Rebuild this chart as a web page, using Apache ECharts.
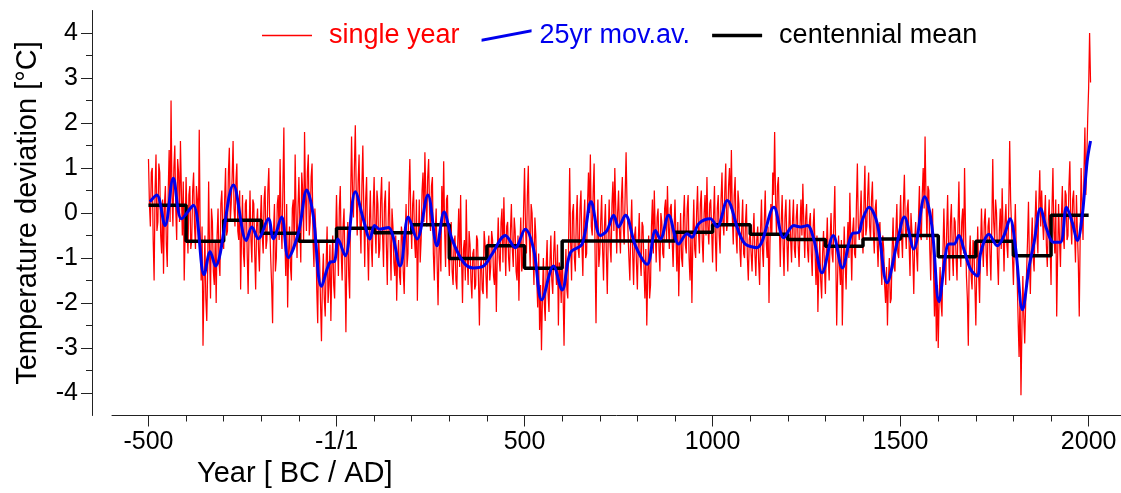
<!DOCTYPE html>
<html>
<head>
<meta charset="utf-8">
<script src="https://cdn.jsdelivr.net/npm/echarts@6/dist/echarts.min.js"></script>
<style>
  html, body { margin: 0; padding: 0; background: #ffffff; }
  #chart { width: 1121px; height: 493px; }
</style>
</head>
<body>
<div id="chart"></div>
<script>
const FONT = "'Liberation Sans', Arial, Helvetica, sans-serif";

// Single-year temperature deviations: values on a 5-year grid from 500 BC ...
const yearStart = -500;
const yearStep = 5;
const singleYear = [
  // -500 .. -405
  1.2, -0.3, 1.0, -1.5, 1.3, -0.2, 0.9, -0.9, -1.35, 0.6, -1.2, 1.4, 2.5, -0.3, 1.5, -0.6, 0.9, 1.6, -0.5, -1.5,
  // -400 .. -305
  0.8, -0.9, 0.6, -0.6, 0.9, -0.8, 0.3, 1.85, -1.5, -2.95, -0.5, -2.4, 0.7, -1.9, -0.2, -1.6, -2.0, 0.1, -1.4, 0.5,
  // -300 .. -205
  -0.8, 1.0, -0.4, 1.45, 0.2, 1.6, -0.3, 1.1, -0.6, -1.7, 0.4, -1.2, 0.3, -1.8, 0.5, -1.1, 0.2, -1.7, 0.1, -1.3,
  // -200 .. -105
  0.4, -0.9, 0.6, -0.6, 1.0, -1.0, -2.45, 0.2, -1.0, 0.4, 1.2, -0.8, 1.9, -1.4, -2.1, -0.3, -1.5, 0.3, 1.3, -1.0,
  // -100 .. -5
  0.8, -1.1, 0.5, 1.8, -0.4, 1.3, -0.2, 1.1, -1.2, -0.4, -2.45, -1.0, -2.85, -0.9, -2.3, -0.3, -1.6, -2.4, -0.5, -1.9,
  // 0 .. 95
  0.4, -1.4, 0.6, -1.5, 0.1, -2.65, -0.2, -1.9, 1.7, -0.1, 1.95, -0.5, 1.3, -0.9, 1.5, -1.2, 0.8, -1.5, 0.5, -1.2,
  // 100 .. 195
  0.8, -0.9, 0.2, -0.8, 0.8, -1.2, 0.5, -1.6, 0.7, -1.5, -0.3, -1.4, -1.95, -0.6, -1.6, -0.5, -1.8, 0.2, -0.9, 1.2,
  // 200 .. 295
  -0.8, 0.5, -1.0, -1.95, 0.3, -0.6, 0.9, 1.35, -0.3, 1.2, -0.4, 0.8, -1.5, 0.1, -2.05, -0.5, 0.6, 1.15, -1.2, 0.4,
  // 300 .. 395
  -1.4, -0.2, -1.6, -0.5, -1.7, 0.1, 0.4, -2.0, -0.6, 0.3, -1.6, -0.7, -1.9, -0.8, -1.6, -0.6, -2.5, -1.0, -1.8, -0.7,
  // 400 .. 495
  -1.9, -0.5, -1.2, -0.6, -1.6, -2.2, -0.1, -1.3, 0.1, 0.35, -1.4, -0.2, -1.3, 0.2, -1.2, -0.4, -1.5, -1.95, -0.1, -1.1,
  // 500 .. 595
  1.0, -0.9, 1.05, -1.2, 0.0, -1.6, -0.5, -2.1, -2.6, -3.05, -1.0, -2.4, -0.6, -2.2, -0.5, -1.8, -0.4, -1.6, -2.5, -1.3,
  // 600 .. 695
  -0.7, -2.95, -0.8, -1.9, 1.0, -1.5, 0.2, -1.3, 0.4, -1.0, 0.5, -1.4, 0.3, -0.9, 0.9, 1.3, -0.5, 1.1, -2.45, 0.3,
  // 700 .. 795
  -0.9, 0.4, -1.5, 0.2, -1.8, 0.3, -1.1, 0.7, 1.0, -0.9, 0.5, -0.9, 0.8, -0.7, 1.35, -0.4, -1.5, 0.3, -1.6, -0.3,
  // 800 .. 895
  -1.7, 0.0, -1.4, -0.3, -1.9, -2.5, -0.5, -1.6, 0.3, 0.5, -1.1, 0.1, -1.3, -0.2, -1.0, 0.3, 0.6, -0.8, 0.2, -1.2,
  // 900 .. 995
  0.3, -1.3, -1.85, 0.0, -1.2, 0.4, -0.9, 0.4, -1.5, -2.0, 0.3, -1.0, 0.6, -0.9, 0.5, -1.1, 0.4, 0.8, -0.7, 0.3,
  // 1000 .. 1095
  -1.1, 0.6, -1.3, 0.4, -0.9, 0.9, -0.5, 1.1, -0.2, 1.0, 1.4, -0.7, 0.8, -0.9, 0.2, -1.2, 0.3, -1.0, 0.2, -1.5,
  // 1100 .. 1195
  -0.4, -1.3, 0.0, -1.4, -0.3, -1.6, 0.3, -1.2, 0.5, -1.0, -2.0, 0.2, 0.9, 1.8, -0.5, 0.8, -1.2, 0.4, -1.4, 0.3,
  // 1200 .. 1295
  -1.3, 0.3, -1.1, 0.3, -1.0, 0.2, -1.2, 0.3, 0.65, -1.0, 0.2, -1.1, 0.0, -1.4, 0.1, -1.6, -2.2, -0.6, -1.9, -0.4,
  // 1300 .. 1395
  -1.8, -0.1, -1.5, 0.0, -1.1, 0.6, -2.5, -0.5, -1.6, -2.5, -0.3, -1.7, -0.2, 0.45, -1.5, -0.1, -1.0, 1.1, -0.6, 0.5,
  // 1400 .. 1495
  -0.9, 1.05, -0.3, 0.9, -0.6, 0.7, -0.9, 0.3, -1.2, -0.2, -1.6, -0.8, -2.0, -2.5, -1.0, -1.9, -0.1, -1.3, 0.2, -1.0,
  // 1500 .. 1595
  0.4, -1.0, 0.85, -0.8, 0.3, -1.4, -0.4, -1.8, -0.2, -1.3, 0.6, -0.6, 1.0, 1.7, -0.6, 0.5, -1.5, 0.1, -2.3, -2.85,
  // 1600 .. 1695
  -3.0, -1.2, -2.3, 0.1, -1.6, 0.4, -1.5, 0.2, -1.4, -0.2, -1.5, 0.7, -1.2, 0.1, 1.0, -1.4, -2.95, -0.5, -1.7, -0.8,
  // 1700 .. 1795
  -2.5, -0.3, -2.0, 0.1, -1.2, 0.1, -1.4, -0.1, -1.5, 1.2, -0.6, 0.0, -1.6, 0.1, 0.55, -1.3, 0.2, -1.0, 1.6, -0.3,
  // 1800 .. 1895
  -1.6, 0.2, -1.5, -3.2, -4.05, -1.4, -2.9, -1.3, 0.25, -1.8, -0.1, -1.3, 0.5, -0.9, 0.95, 0.5, -0.6, 0.4, -1.2, 0.3,
  // 1900 .. 1995
  -1.6, 1.0, -0.9, -2.3, 0.2, -1.2, 0.6, -0.8, 0.4, -0.5, 1.15, -0.7, 0.5, -1.1, -0.4, -2.3, 1.0, -0.6, 1.9, 1.2,
  // 2000, 2005
  2.8, 2.9
];
// ... and the years in between (2.5 years after each grid year)
const singleYearBetween = [
  0.2, 0.9, -0.6, 0.5, -0.4, 1.1, -0.5, 0.3, 0.2, -0.7, 0.5, -0.2, 0.4, 1.0, 0.1, 1.2, -0.2, 0.5, 0.7, -0.4,
  -0.2, 0.4, -0.8, 0.5, -0.3, 0.6, -0.6, -0.4, -0.3, -1.6, -1.9, -1.2, -0.9, 0.1, -1.3, -0.6, -0.5, -1.1, 0.2, -0.4,
  0.3, -0.5, 0.9, -0.2, 0.8, 0.1, 0.7, -0.4, 0.5, -0.5, -0.9, 0.2, -0.9, -0.4, -0.6, 0.3, -0.9, -0.3, -0.8, -0.2,
  -0.5, 0.3, -0.8, 0.5, -0.3, -1.6, -0.4, -1.3, 0.2, -0.6, -0.2, 0.6, -0.5, 0.2, -0.9, -1.2, 0.1, -0.8, 0.0, 0.1,
  -0.2, 0.9, -0.6, 0.4, 0.9, -0.5, 0.8, -0.6, 0.1, -1.7, -0.6, -2.0, -1.5, -1.9, -1.1, -2.0, -0.7, -1.2, -1.6, -0.6,
  -0.6, 0.1, -0.9, -0.3, -1.2, -0.9, -1.4, 0.3, 0.5, 1.0, 0.4, 0.7, -0.2, 0.6, 0.1, 0.3, -0.6, -0.2, -0.7, 0.1,
  -0.3, 0.5, -1.0, 0.3, -0.5, 0.2, -0.7, -0.2, -0.6, 0.1, -1.1, -0.5, -1.0, -1.4, -0.3, -1.3, -0.6, -1.2, 0.4, -0.1,
  0.2, -0.6, 0.3, -0.7, -1.1, 0.5, -0.2, 0.4, 0.8, 0.0, 0.6, -0.9, -0.4, -1.1, -0.8, -1.3, -0.3, -0.4, 0.3, -0.9,
  -0.5, -1.3, -0.7, -1.5, -0.6, -1.2, -1.0, -0.8, -1.5, -1.0, -0.4, -1.5, -0.9, -1.7, -0.5, -1.5, -1.2, -1.7, -0.4, -1.4,
  -0.8, -1.5, -0.4, -1.4, -0.8, -0.9, -1.0, -0.2, -1.1, -0.6, -0.3, -1.0, -0.4, -0.8, -0.1, -1.3, -0.5, -0.8, -1.3, 0.1,
  -0.3, 0.4, -0.5, 0.2, -0.9, -0.1, -1.5, -0.9, -1.6, -1.9, -2.0, -1.2, -1.8, -1.1, -1.5, -0.9, -1.2, -0.7, -1.1, -2.0,
  -1.8, -1.5, -1.7, -0.4, -0.6, 0.0, -1.0, -0.2, -0.8, 0.1, -0.7, -0.2, -1.0, 0.2, 0.0, -0.3, 0.5, -0.9, -0.6, -1.2,
  -0.2, -0.8, -0.3, -0.9, -0.5, -0.7, 0.2, -0.4, 0.1, 0.0, -0.4, 0.3, -0.3, 0.4, 0.2, -1.0, -0.4, -0.9, -0.5, -1.1,
  -0.6, -1.0, -0.2, -1.2, -0.8, -1.4, -1.9, -0.3, -0.9, -0.4, -0.1, -0.8, 0.0, -0.9, 0.1, -0.6, -0.3, 0.1, -0.6, -0.4,
  -0.5, -0.2, -0.8, -1.0, -0.1, -0.7, 0.1, -1.0, -0.4, -0.6, -0.8, 0.0, -0.4, 0.2, -0.6, 0.0, -0.5, -0.3, 0.2, -0.4,
  -0.1, -0.6, 0.1, -0.5, 0.3, -0.2, 0.5, -0.4, 0.6, 0.1, -0.1, 0.4, -0.5, 0.5, -0.8, -0.3, -0.9, -0.2, -1.0, -0.6,
  -0.9, -0.5, -0.9, -0.6, -1.1, -0.4, -0.8, -0.2, -0.6, -0.3, -0.7, -0.5, 0.4, 0.3, 0.6, -0.3, -0.2, -0.7, -0.1, -0.6,
  -0.4, -0.6, -0.2, -0.8, -0.1, -0.7, -0.3, -0.5, -0.2, -0.1, -0.8, -0.2, -0.9, -0.3, -0.9, -0.5, -1.3, -1.5, -0.9, -1.2,
  -0.8, -1.0, -0.6, -0.9, -0.2, -0.9, -1.4, -1.2, -0.6, -1.3, -1.1, -0.8, -1.0, -0.6, -0.4, -0.9, 0.2, -0.3, -0.1, -0.5,
  0.2, -0.5, 0.4, -0.3, 0.3, -0.4, 0.1, -0.6, -0.4, -1.0, -0.5, -1.6, -1.2, -1.5, -2.0, -0.8, -1.2, -0.4, -0.9, -0.3,
  -0.5, 0.2, -0.3, 0.1, -0.7, 0.0, -1.0, -0.6, -0.9, -0.1, -0.5, 0.4, 0.1, 0.3, 0.6, -0.8, -0.2, -1.3, -1.1, -1.6,
  -1.9, -2.0, -0.9, -0.8, -0.4, -0.8, -0.2, -0.9, -0.1, -1.0, -0.3, -0.7, -0.2, -0.9, -0.3, -1.9, -1.0, -1.4, -0.6, -1.6,
  -1.2, -1.4, -0.8, -0.7, -0.2, -0.9, -0.3, -0.9, -0.3, -0.2, 0.3, -1.0, -0.4, -0.8, -0.4, -0.2, -0.7, 0.1, 0.3, -1.0,
  -0.6, -0.8, -2.4, -1.8, -2.6, -2.3, -2.0, -0.6, -1.1, -0.7, -1.0, -0.2, -0.5, 0.2, -0.3, -0.2, -0.1, -0.7, -0.2, -0.7,
  0.1, -0.4, 0.3, -1.0, -0.6, -0.1, -0.5, 0.5, -0.6, 0.6, -0.2, 0.3, -0.4, 0.4, -1.1, -0.5, 0.2, 0.9, 0.4, 2.1,
  4.0
];

// 25-year moving average (turning points of the smoothed curve)
const movAvYears = [
  -496, -478, -456, -434, -412, -381, -352, -336, -322, -274, -240, -225, -208, -181, -168, -146, -128, -101,
  -79, -62, -40, -18, -5, 4, 23, 50, 72, 89, 101, 115, 138, 169, 191, 214, 243, 267, 286, 307, 338, 364, 391,
  413, 449, 475, 502, 524, 546, 577, 600, 622, 653, 677, 701, 719, 737, 750, 768, 795, 826, 848, 861, 883,
  910, 932, 945, 963, 994, 1012, 1039, 1070, 1087, 1118, 1163, 1189, 1216, 1234, 1252, 1269, 1291, 1321,
  1345, 1371, 1389, 1398, 1416, 1438, 1464, 1491, 1510, 1535, 1564, 1583, 1602, 1619, 1628, 1642, 1655,
  1668, 1686, 1704, 1713, 1735, 1757, 1775, 1791, 1806, 1824, 1842, 1855, 1872, 1888, 1907, 1925, 1941,
  1956, 1970, 1983, 1996, 2005
];
const movAvValues = [
  0.25, 0.4, -0.28, 0.77, -0.13, 0.17, -1.37, -0.86, -1.18, 0.62, -0.61, -0.31, -0.57, -0.13, -0.57, -0.09, -0.99, -0.43,
  0.51, -0.05, -1.63, -1.1, -1.07, -0.58, -0.95, 0.47, -0.16, -0.58, -0.28, -0.36, -0.32, -1.18, -0.09, -0.58, 0.4, -0.73, 0.02, -0.58, -1.1, -1.22, -1.18,
  -0.92, -0.5, -0.77, -0.36, -0.8, -1.93, -1.18, -1.71, -0.88, -0.69, 0.25, -0.5, -0.39, -0.05, -0.31, -0.05, -0.73, -1.14, -0.39, -0.58, -0.05,
  -0.69, -0.46, -0.54, -0.24, -0.13, -0.31, 0.28, -0.43, -0.69, -0.77, 0.13, -0.55, -0.28, -0.31, -0.28, -0.58, -1.33, -0.5,
  -1.22, -0.46, -0.43, -0.16, 0.13, -0.24, -1.55, -0.65, -0.09, -0.8, 0.36, -0.28, -1.97, -0.95, -0.69, -0.69, -0.5,
  -0.8, -1.25, -1.4, -0.88, -0.47, -0.73, -0.5, -0.13, -0.8, -2.15, -1.18, -0.65, 0.1, -0.35, -0.65, -0.65, 0.13,
  -0.2, -0.61, -0.05, 1.15, 1.6
];

// Centennial means, one per century starting at the listed year
const centuryStarts = [
  -500, -400, -300, -200, -100, 0, 100, 200, 300, 400, 500, 600, 700,
  800, 900, 1000, 1100, 1200, 1300, 1400, 1500, 1600, 1700, 1800, 1900
];
const centennialMean = [
  0.17, -0.63, -0.16, -0.45, -0.63, -0.34, -0.44, -0.26, -1.01, -0.73, -1.23, -0.62, -0.62,
  -0.62, -0.43, -0.26, -0.47, -0.59, -0.74, -0.58, -0.5, -0.97, -0.63, -0.95, -0.05
];
const lastCenturyEnd = 2000;

// Axis ticks and labels
const xMinorTicks = [
  -500, -400, -300, -200, -100, 0, 100, 200, 300, 400, 500, 600, 700, 800, 900,
  1000, 1100, 1200, 1300, 1400, 1500, 1600, 1700, 1800, 1900, 2000
];
const xMajorTicks = [-500, 0, 500, 1000, 1500, 2000];
const yMinorTicks = [-4, -3.5, -3, -2.5, -2, -1.5, -1, -0.5, 0, 0.5, 1, 1.5, 2, 2.5, 3, 3.5, 4];
const yMajorTicks = [-4, -3, -2, -1, 0, 1, 2, 3, 4];

const singleYearData = [];
singleYear.forEach((v, i) => {
  const yr = yearStart + i * yearStep;
  singleYearData.push([yr, v]);
  if (i < singleYearBetween.length) singleYearData.push([yr + yearStep / 2, singleYearBetween[i]]);
});
const movAvData = movAvYears.map((y, i) => [y, movAvValues[i]]);
const centennialData = centuryStarts.map((y, i) => [y, centennialMean[i]]);
centennialData.push([lastCenturyEnd, centennialMean[centennialMean.length - 1]]);

const X_MIN = -597, X_MAX = 2086, Y_MIN = -4.5, Y_MAX = 4.5;
const axisColor = '#222222';

const chart = echarts.init(document.getElementById('chart'), null, { renderer: 'canvas' });

chart.setOption({
  animation: false,
  backgroundColor: '#ffffff',
  textStyle: { fontFamily: FONT },
  grid: { left: 112, right: 0, top: 10.5, bottom: 77.5 },
  title: {
    text: 'Year [ BC / AD]',
    left: 197,
    top: 459,
    padding: 0,
    textStyle: { fontFamily: FONT, fontSize: 29, fontWeight: 'normal', color: '#000' }
  },
  legend: {
    left: 262,
    top: 22,
    padding: 0,
    itemWidth: 50,
    itemHeight: 14,
    itemGap: 22,
    selectedMode: false,
    itemStyle: { borderWidth: 0 },
    textStyle: { fontFamily: FONT, fontSize: 27, padding: [0, 0, 0, 12] },
    data: [
      { name: 'single year', icon: 'path://M0,6 L50,6 L50,7.3 L0,7.3 Z', textStyle: { color: '#ff0000' } },
      { name: '25yr mov.av.', icon: 'path://M0,11 L50,1.5 L50,4.5 L0,14 Z', textStyle: { color: '#0000ee', padding: [0, 0, 0, 3] } },
      { name: 'centennial mean', icon: 'path://M0,0 L50,0 L50,3.6 L0,3.6 Z', textStyle: { color: '#000000' } }
    ]
  },
  xAxis: [
    {
      type: 'value', min: X_MIN, max: X_MAX, position: 'bottom', offset: 0,
      splitLine: { show: false },
      axisLine: { show: true, onZero: false, lineStyle: { color: axisColor, width: 1 } },
      axisTick: { show: true, customValues: xMinorTicks, length: 6, lineStyle: { color: axisColor } },
      axisLabel: {
        customValues: xMajorTicks, fontSize: 25, color: '#000', margin: 14, fontFamily: FONT,
        formatter: v => (v === 0 ? '-1/1' : String(v))
      }
    },
    {
      type: 'value', min: X_MIN, max: X_MAX, position: 'bottom', offset: 0,
      splitLine: { show: false },
      axisLine: { show: false, onZero: false },
      axisTick: { show: true, customValues: xMajorTicks, length: 11, lineStyle: { color: axisColor } },
      axisLabel: { show: false }
    }
  ],
  yAxis: [
    {
      type: 'value', min: Y_MIN, max: Y_MAX, position: 'left', offset: 20,
      splitLine: { show: false },
      axisLine: { show: true, onZero: false, lineStyle: { color: axisColor, width: 1 } },
      axisTick: { show: true, customValues: yMinorTicks, length: 6, lineStyle: { color: axisColor } },
      axisLabel: { customValues: yMajorTicks, fontSize: 25, color: '#000', margin: 14, fontFamily: FONT },
      name: 'Temperature deviation [°C]',
      nameLocation: 'middle',
      nameGap: 50,
      nameTextStyle: { fontFamily: FONT, fontSize: 29, color: '#000' }
    },
    {
      type: 'value', min: Y_MIN, max: Y_MAX, position: 'left', offset: 20,
      splitLine: { show: false },
      axisLine: { show: false, onZero: false },
      axisTick: { show: true, customValues: yMajorTicks, length: 11, lineStyle: { color: axisColor } },
      axisLabel: { show: false }
    }
  ],
  series: [
    {
      name: 'single year', type: 'line', xAxisIndex: 0, yAxisIndex: 0,
      data: singleYearData, symbol: 'none', z: 2,
      itemStyle: { color: '#ff0000' },
      lineStyle: { color: '#ff0000', width: 1.25 }
    },
    {
      name: 'centennial mean', type: 'line', xAxisIndex: 0, yAxisIndex: 0,
      data: centennialData, step: 'end', symbol: 'none', z: 3,
      itemStyle: { color: '#000000' },
      lineStyle: { color: '#000000', width: 3.5 }
    },
    {
      name: '25yr mov.av.', type: 'line', xAxisIndex: 0, yAxisIndex: 0,
      data: movAvData, smooth: 0.35, symbol: 'none', z: 4,
      itemStyle: { color: '#0000ee' },
      lineStyle: { color: '#0000ee', width: 3 }
    }
  ]
});
</script>
</body>
</html>
